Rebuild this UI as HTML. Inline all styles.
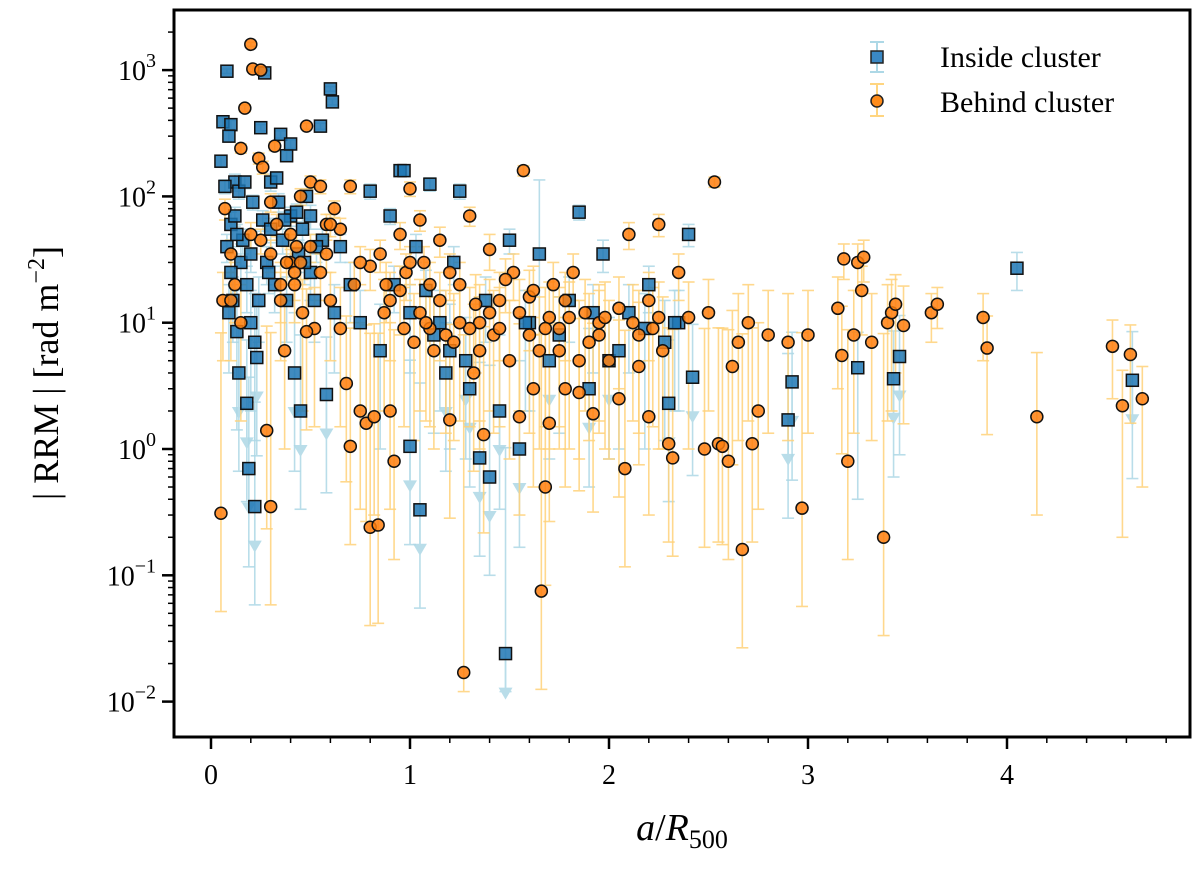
<!DOCTYPE html>
<html><head><meta charset="utf-8"><style>
html,body{margin:0;padding:0;background:#fff;}
svg text{font-family:"Liberation Serif",serif;fill:#000;}
</style></head><body>
<svg id="chart" width="1200" height="865" xmlns="http://www.w3.org/2000/svg">
<g id="errs"></g>
<g id="marks"></g>
<rect x="174" y="10" width="1016" height="727" fill="none" stroke="#000" stroke-width="3"/>
<g id="axes"></g>
<text x="682" y="840" font-size="38" text-anchor="middle"><tspan font-style="italic">a</tspan>/<tspan font-style="italic">R</tspan><tspan font-size="26" dy="8">500</tspan></text>
<text transform="translate(58,373) rotate(-90)" font-size="36" text-anchor="middle">| RRM | [rad m<tspan font-size="24" dy="-14">−2</tspan><tspan dy="14">]</tspan></text>
<g>
<g>
<line x1="877" y1="42" x2="877" y2="72" stroke="#add8e6" stroke-width="2"/>
<line x1="870" y1="42" x2="884" y2="42" stroke="#add8e6" stroke-width="2"/>
<line x1="870" y1="72" x2="884" y2="72" stroke="#add8e6" stroke-width="2"/>
<rect x="871" y="51" width="12" height="12" fill="#3a88c4" stroke="#222" stroke-width="1.5"/>
<text x="940" y="67" font-size="30">Inside cluster</text></g>
<g>
<line x1="877" y1="84" x2="877" y2="116" stroke="#ffd580" stroke-width="2"/>
<line x1="870" y1="84" x2="884" y2="84" stroke="#ffd580" stroke-width="2"/>
<line x1="870" y1="116" x2="884" y2="116" stroke="#ffd580" stroke-width="2"/>
<circle cx="877" cy="101" r="6" fill="#ff8c1a" stroke="#222" stroke-width="1.5"/>
<text x="940" y="112" font-size="30">Behind cluster</text></g>
</g>
</svg>
<script>
const xTicks=[0,1,2,3,4];
const yTickExp=[-2,-1,0,1,2,3];
const insidePoints=[[0.05,190,20],[0.06,390,30],[0.08,980,40],[0.1,370,30],[0.09,300,30],[0.12,130,20],[0.1,60,15],[0.15,30,12],[0.13,8.5,10],[0.14,4,6],[0.18,2.3,5],[0.19,0.7,3],[0.22,0.35,2],[0.22,7,10],[0.23,5.3,8],[0.25,350,20],[0.27,950,40],[0.3,130,20],[0.35,310,20],[0.38,210,20],[0.4,260,20],[0.42,4,8],[0.45,2,6],[0.48,100,15],[0.5,70,15],[0.55,360,20],[0.6,710,30],[0.61,560,30],[0.58,2.7,5],[0.65,40,10],[0.7,20,10],[0.8,110,15],[0.9,70,10],[0.95,160,15],[0.97,160,15],[1.0,1.05,4],[1.03,40,10],[1.05,0.33,3],[1.1,125,15],[1.15,10,8],[1.2,6,8],[1.25,110,15],[1.3,3,6],[1.35,0.85,4],[1.4,0.6,4],[1.45,2,6],[1.48,0.024,1],[1.5,45,10],[1.55,1,4],[1.6,10,8],[1.65,35,100],[1.7,5,6],[1.8,15,8],[1.85,75,10],[1.9,3,6],[1.97,35,10],[2.0,5,6],[2.1,12,8],[2.2,20,8],[2.3,2.3,5],[2.35,10,8],[2.4,50,10],[2.42,3.7,6],[2.9,1.7,4],[2.92,3.4,5],[3.25,4.4,4],[3.43,3.6,5],[3.46,5.4,6],[4.05,27,9],[4.63,3.5,5],
[0.08,40,10],[0.1,25,10],[0.12,70,12],[0.14,110,15],[0.16,45,10],[0.18,20,8],[0.2,35,10],[0.24,15,8],[0.26,65,12],[0.28,30,10],[0.3,55,12],[0.32,20,8],[0.34,90,15],[0.36,45,10],[0.38,15,8],[0.4,70,12],[0.44,35,10],[0.46,55,12],[0.5,25,10],[0.52,15,8],[0.56,45,10],[0.62,12,8],[0.75,10,8],[0.85,6,8],[0.92,20,8],[1.0,12,8],[1.08,18,8],[1.12,8,8],[1.18,4,6],[1.22,30,10],[1.28,5,6],[1.38,15,8],[1.58,10,8],[1.75,8,8],[1.92,12,8],[2.05,6,8],[2.18,9,8],[2.28,7,8],[2.33,10,8],
[0.07,120,15],[0.11,15,8],[0.13,50,10],[0.17,130,15],[0.21,90,12],[0.29,25,8],[0.33,140,15],[0.37,65,10],[0.43,75,12],[0.47,30,10],[0.53,40,10],[0.09,12,8],[0.2,10,8]];
const behindPoints=[[0.05,0.31,8],[0.06,15,10],[0.07,80,15],[0.1,35,10],[0.12,20,10],[0.15,240,20],[0.17,500,30],[0.2,1600,60],[0.21,1020,50],[0.25,1000,50],[0.24,200,20],[0.26,170,20],[0.28,1.4,8],[0.3,0.35,8],[0.3,90,15],[0.32,250,20],[0.33,60,12],[0.35,15,10],[0.37,6,10],[0.4,30,10],[0.42,25,10],[0.43,40,10],[0.45,100,15],[0.46,12,10],[0.48,360,20],[0.5,130,15],[0.52,9,10],[0.55,120,15],[0.58,60,12],[0.6,15,10],[0.62,80,12],[0.65,55,12],[0.68,3.3,8],[0.7,1.05,8],[0.7,120,15],[0.72,20,10],[0.75,2,8],[0.78,1.6,8],[0.8,0.24,8],[0.82,1.8,8],[0.84,0.25,8],[0.85,35,10],[0.87,12,10],[0.9,2,8],[0.92,0.8,8],[0.95,50,12],[0.98,25,10],[1.0,115,15],[1.02,7,10],[1.05,65,12],[1.07,30,10],[1.1,20,10],[1.12,6,10],[1.15,45,12],[1.18,8,10],[1.2,1.7,8],[1.22,7,10],[1.25,20,10],[1.27,0.017,8],[1.3,70,12],[1.32,4,10],[1.35,10,10],[1.37,1.3,8],[1.4,38,12],[1.42,8,10],[1.45,15,10],[1.5,5,10],[1.52,25,10],[1.55,1.8,8],[1.57,160,15],[1.6,8,10],[1.62,3,8],[1.65,6,10],[1.66,0.075,8],[1.68,0.5,8],[1.7,1.6,8],[1.72,20,10],[1.75,9,10],[1.78,3,8],[1.8,11,10],[1.82,25,10],[1.85,2.8,8],[1.88,12,10],[1.9,7,10],[1.92,1.9,8],[1.95,10,10],[2.0,5,10],[2.05,2.5,8],[2.08,0.7,8],[2.1,50,12],[2.15,8,10],[2.2,1.8,8],[2.22,9,10],[2.25,60,12],[2.27,6,10],[2.3,1.1,8],[2.32,0.85,8],[2.35,25,10],[2.4,11,10],[2.48,1.0,8],[2.5,12,10],[2.53,130,12],[2.55,1.1,8],[2.57,1.05,8],[2.6,0.8,8],[2.62,4.5,8],[2.65,7,10],[2.67,0.16,8],[2.7,10,10],[2.72,1.1,8],[2.75,2,8],[2.8,8,10],[2.9,7,10],[2.97,0.34,8],[3.0,8,10],[3.15,13,10],[3.17,5.5,8],[3.18,32,10],[3.2,0.8,8],[3.23,8,10],[3.25,30,12],[3.27,18,10],[3.28,33,12],[3.32,7,10],[3.38,0.2,8],[3.4,10,10],[3.42,12,10],[3.44,14,10],[3.48,9.5,10],[3.62,12,5],[3.65,14,5],[3.88,11,6],[3.9,6.3,5],[4.15,1.8,4],[4.53,6.5,4],[4.58,2.2,2],[4.62,5.6,4],[4.68,2.5,2],
[0.5,40,10],[0.45,30,10],[0.42,20,10],[0.55,25,10],[0.65,9,10],[0.8,28,10],[0.9,15,10],[1.0,30,10],[1.05,12,10],[1.1,9,10],[1.15,15,10],[1.2,25,10],[1.3,9,10],[1.35,6,10],[1.4,12,10],[1.45,9,10],[1.55,12,10],[1.6,16,10],[1.7,11,10],[1.75,6,10],[1.85,5,10],[1.95,8,10],[2.05,13,10],[2.15,4.5,10],[2.2,15,10],[2.25,11,10],[0.35,20,10],[0.38,30,10],[0.4,50,12],[0.48,8.5,10],[0.6,60,12],[0.3,35,10],[0.25,45,10],[0.2,50,12],[0.15,10,10],[0.1,15,10],[0.88,20,10],[0.97,9,10],[1.25,10,10],[1.48,22,10],[1.62,18,10],[1.78,15,10],[1.98,11,10],[2.12,10,10],[0.75,30,10],[0.58,35,10],[0.95,18,10],[1.08,10,10],[1.33,14,10],[1.68,9,10]];

const NS="http://www.w3.org/2000/svg";
const X0=174,X1=1190,Y0=10,Y1=737;
function sx(v){return 211+v*199;}
function sy(v){return 449-Math.log10(v)*126.3;}
function mk(tag,attrs,parent){const e=document.createElementNS(NS,tag);for(const k in attrs)e.setAttribute(k,attrs[k]);parent.appendChild(e);return e;}
const axes=document.getElementById('axes'),errs=document.getElementById('errs'),marks=document.getElementById('marks');
xTicks.forEach(t=>{const x=sx(t);
 const l=mk('line',{x1:x,x2:x,y1:Y1,y2:Y1+12,stroke:'#000','stroke-width':2.5},axes);
 
 
 const tx=mk('text',{x:x,y:Y1+47,'font-size':28,'text-anchor':'middle'},axes);tx.textContent=t;
 
 });
for(let t=0.2;t<4.9;t+=0.2){if(Math.abs(t-Math.round(t))<0.01)continue;const x=sx(t);const n=mk('line',{x1:x,x2:x,y1:Y1,y2:Y1+6,stroke:'#000','stroke-width':1.5},axes);
 
 }
yTickExp.forEach(p=>{const y=sy(Math.pow(10,p));
 const l=mk('line',{x1:X0-12,x2:X0,y1:y,y2:y,stroke:'#000','stroke-width':2.5},axes);
 
 
 for(let m=2;m<10;m++){const ym=sy(m*Math.pow(10,p));if(ym>Y0&&ym<Y1){const n=mk('line',{x1:X0-6,x2:X0,y1:ym,y2:ym,stroke:'#000','stroke-width':1.5},axes);
 
 }}
 const tx=mk('text',{x:X0-18,y:y+10,'font-size':28,'text-anchor':'end'},axes);
 tx.innerHTML='10<tspan font-size="20" dy="-13">'+(p<0?'−'+(-p):p)+'</tspan>';
 
 });
function drawErr(p,col,withArrow){const x=sx(p[0]),y=p[1],e=p[2];
 let lo=y-e>0?y-e:Math.max(y/6,0.012);let hi=y+e;
 const y1=Math.max(sy(hi),Y0),y2=Math.min(sy(lo),Y1-2);
 const g=mk('g',{stroke:col,'stroke-width':1.6,opacity:0.85},errs);
 
 
 mk('line',{x1:x,x2:x,y1:y1,y2:y2},g);
 mk('line',{x1:x-6,x2:x+6,y1:y1,y2:y1},g);
 mk('line',{x1:x-6,x2:x+6,y1:y2,y2:y2},g);
 if(withArrow&&y<6&&e>y){const ya=sy(y),yb=ya+38;
  mk('line',{x1:x,x2:x,y1:ya,y2:yb},g);
  mk('polygon',{points:(x-7)+','+(yb-4)+' '+(x+7)+','+(yb-4)+' '+x+','+(yb+8),fill:col,stroke:'none'},g);}}
insidePoints.forEach(p=>drawErr(p,'#add8e6',true));
behindPoints.forEach(p=>drawErr(p,'#ffd27a',false));
insidePoints.forEach(p=>{const r=mk('rect',{x:sx(p[0])-6,y:sy(p[1])-6,width:12,height:12,fill:'#1f77b4','fill-opacity':0.85,stroke:'#111','stroke-width':1.5},marks);
 
 });
behindPoints.forEach(p=>{const c=mk('circle',{cx:sx(p[0]),cy:sy(p[1]),r:6,fill:'#ff7f0e','fill-opacity':0.85,stroke:'#111','stroke-width':1.5},marks);
 
 });
</script>
</body></html>
